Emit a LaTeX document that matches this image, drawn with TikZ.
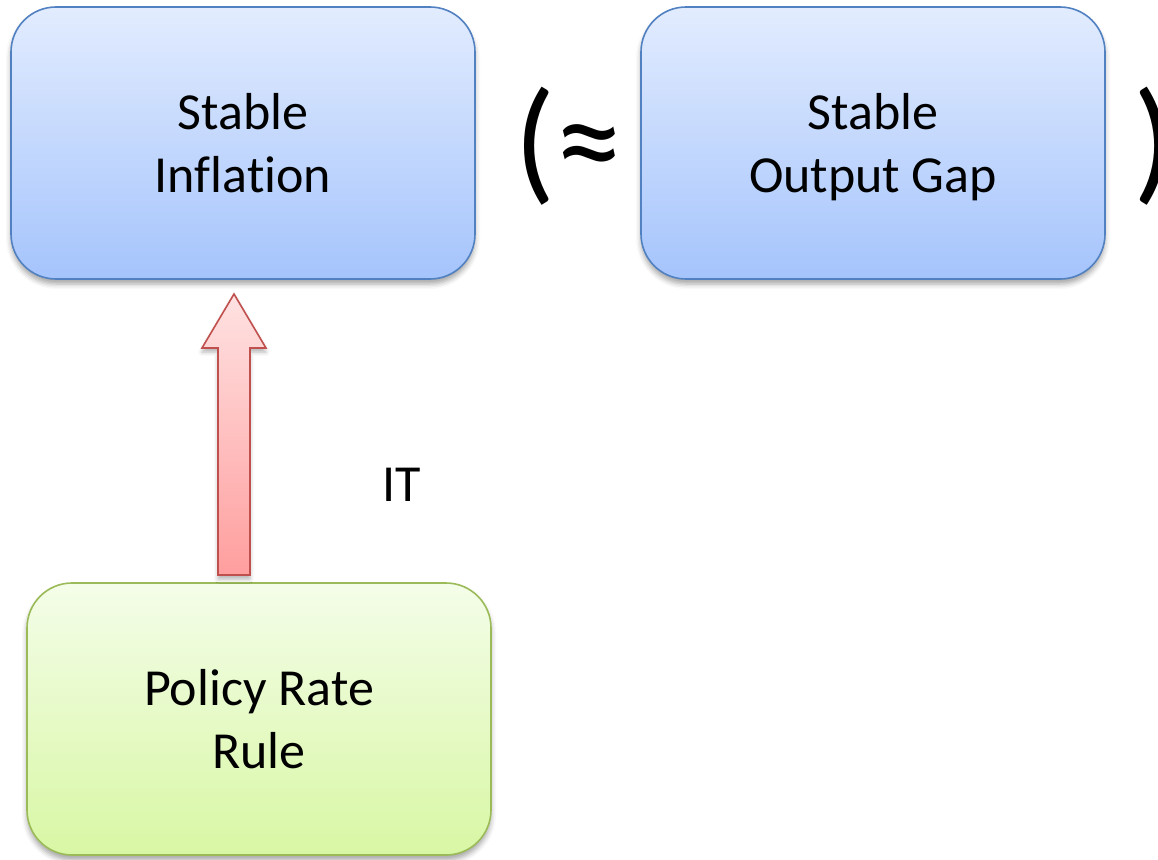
\documentclass[tikz,border=0pt]{standalone}
\usepackage{fontspec}
\setmainfont[Ligatures=NoCommon]{Carlito}
\usetikzlibrary{shadows.blur}
\definecolor{bluetop}{HTML}{E2ECFE}
\definecolor{bluebot}{HTML}{A5C4FC}
\definecolor{blueedge}{HTML}{5281C1}
\definecolor{greentop}{HTML}{F4FDE9}
\definecolor{greenbot}{HTML}{D8F7A4}
\definecolor{greenedge}{HTML}{9BBB59}
\definecolor{redtop}{HTML}{FFE2E2}
\definecolor{redbot}{HTML}{FF9E9E}
\definecolor{rededge}{HTML}{C0504D}
\tikzset{
  boxbase/.style={rectangle, rounded corners=45pt, line width=1.6pt,
    minimum width=464pt, minimum height=272pt, align=center, inner sep=0pt,
    font=\fontsize{52}{63}\selectfont,
    blur shadow={shadow xshift=0pt, shadow yshift=-5pt, shadow blur radius=5pt, shadow opacity=35}},
  bluebox/.style={boxbase, draw=blueedge, top color=bluetop, bottom color=bluebot},
  greenbox/.style={boxbase, draw=greenedge, top color=greentop, bottom color=greenbot},
  blockarrow/.style={draw=rededge, line width=1.6pt, top color=redtop, bottom color=redbot, line join=miter,
    blur shadow={shadow xshift=0pt, shadow yshift=-4pt, shadow blur radius=4pt, shadow opacity=30}},
  plain/.style={inner sep=0pt, font=\fontsize{52}{63}\selectfont},
  bigparen/.style={inner sep=0pt, anchor=base west, font=\fontsize{136}{136}\selectfont}
}
\begin{document}
\begin{tikzpicture}[x=1pt,y=-1pt]
\useasboundingbox (0,0) rectangle (1158,859);
\clip (0,0) rectangle (1158,859);
\node[bluebox] (infl) at (243,143) {Stable\\Inflation};
\node[bluebox] (gap) at (873,143) {Stable\\\smash{Output Gap}};
\node[greenbox] (rule) at (259,719) {Policy Rate\\Rule};
\node[bigparen] (lp) at (514,186) {(≈};
\node[bigparen] (rp) at (1133,186) {)};
\node[plain] (it) at (402,485) {IT};
\coordinate (ab) at (234,575);
\path[blockarrow] (ab) ++(-16,0) -- ++(0,-227) -- ++(-16,0) -- ++(32,-54) -- ++(32,54) -- ++(-16,0) -- ++(0,227) -- cycle;
\end{tikzpicture}
\end{document}
